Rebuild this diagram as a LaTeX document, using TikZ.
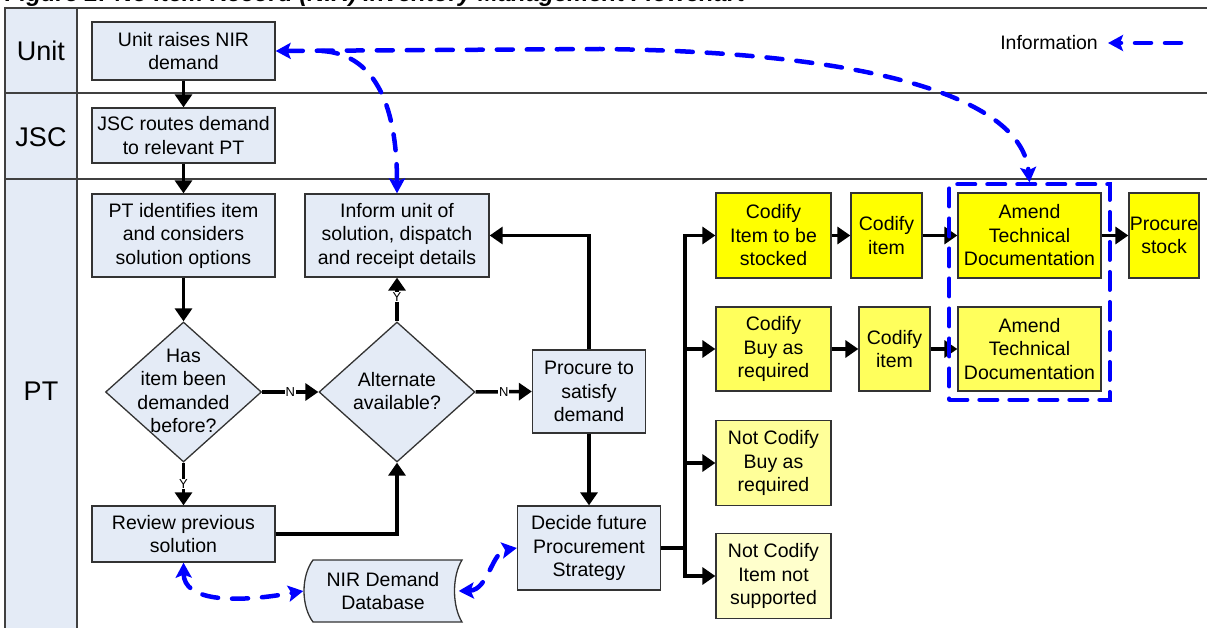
\documentclass[tikz,border=0pt]{standalone}
\usepackage{fontspec}
\setmainfont{Liberation Sans}
\usetikzlibrary{arrows.meta,shapes.geometric,calc,fit}

\definecolor{boxfill}{HTML}{E4EBF6}
\definecolor{laneline}{HTML}{404040}
\definecolor{edgecol}{HTML}{333333}
\definecolor{yelA}{HTML}{FFFF00}
\definecolor{yelB}{HTML}{FFFF5C}
\definecolor{yelC}{HTML}{FFFF99}
\definecolor{yelD}{HTML}{FFFFCC}
\definecolor{infoblue}{HTML}{0000FF}

\newcommand{\boxfont}{\fontsize{19.5}{23.5}\selectfont}
\newcommand{\lanefont}{\fontsize{27}{30}\selectfont}
\newcommand{\titlefont}{\fontsize{24}{28}\selectfont\bfseries\itshape}
\newcommand{\tagfont}{\fontsize{13}{13}\selectfont}

\begin{document}
\begin{tikzpicture}[x=1pt,y=-1pt,
  procbox/.style={draw=edgecol, line width=1.3pt, fill=boxfill, align=center,
    inner sep=0pt, font=\boxfont},
  yelbox/.style={procbox, fill=#1},
  decision/.style={diamond, draw=edgecol, line width=1.3pt, fill=boxfill,
    inner sep=0pt, minimum width=156, minimum height=140},
  flow/.style={line width=3.5pt, line join=miter, -{Triangle[length=13pt,width=17pt]}},
  trunk/.style={line width=3.5pt},
  lbl/.style={fill=white, inner sep=0.6pt, font=\tagfont},
  info/.style={draw=infoblue, line width=4.5pt, line cap=round,
    dash pattern=on 16pt off 14pt},
  infotip/.style={info, -{Stealth[length=15pt,width=16pt,inset=3pt]}},
  infoboth/.style={info, {Stealth[length=15pt,width=16pt,inset=3pt]}-{Stealth[length=15pt,width=16pt,inset=3pt]}},
  dbshape/.style={draw=edgecol, line width=1.3pt, fill=boxfill},
  lanerule/.style={draw=laneline, line width=1.8pt}
]
\useasboundingbox (0,0) rectangle (1207,628);

% heading (cut by the page edge)
\node[font=\titlefont, anchor=base west, inner sep=0pt] (title) at (5,1.5)
  {Figure 2: No Item Record (NIR) Inventory Management Flowchart};

% swimlane frame
\fill[boxfill] (5,8) rectangle (77,640);
\draw[lanerule] (1210,8) -- (5,8) -- (5,640);
\draw[lanerule] (77,8) -- (77,640);
\draw[lanerule] (5,93) -- (1210,93);
\draw[lanerule] (5,179) -- (1210,179);
\node[font=\lanefont] (laneunit) at (41,51) {Unit};
\node[font=\lanefont] (lanejsc) at (41,137) {JSC};
\node[font=\lanefont] (lanept) at (41,391) {PT};

% process boxes
\node[procbox, minimum width=183, minimum height=58] (unit) at (183.5,51) {Unit raises NIR\\demand};
\node[procbox, minimum width=183, minimum height=55] (jsc) at (183.5,135.5) {JSC routes demand\\to relevant PT};
\node[procbox, minimum width=183, minimum height=83] (ident) at (183.5,235.5) {PT identifies item\\and considers\\solution options};
\node[procbox, minimum width=184, minimum height=83] (inform) at (397,235.5) {Inform unit of\\solution, dispatch\\and receipt details};
\node[decision] (d1) at (183.5,392) {};
\node[font=\boxfont, align=center, inner sep=0pt] (d1text) at (183.5,391) {Has\\item been\\demanded\\before?};
\node[decision] (d2) at (397,392) {};
\node[font=\boxfont, align=center, inner sep=0pt] (d2text) at (397,391) {Alternate\\available?};
\node[procbox, minimum width=113, minimum height=83] (proc) at (589,391.5) {Procure to\\satisfy\\demand};
\node[procbox, minimum width=183, minimum height=56] (review) at (183.5,534) {Review previous\\solution};
\node[procbox, minimum width=143, minimum height=84] (decide) at (589,548) {Decide future\\Procurement\\Strategy};

% stored-data shape for the database
\coordinate (dbc) at (383,591);
\draw[dbshape] ($(dbc)+(-70,-31)$) -- ($(dbc)+(79,-31)$)
  .. controls ($(dbc)+(69,-15)$) and ($(dbc)+(69,15)$) .. ($(dbc)+(79,31)$)
  -- ($(dbc)+(-70,31)$)
  .. controls ($(dbc)+(-82,15)$) and ($(dbc)+(-82,-15)$) .. cycle;
\node[font=\boxfont, align=center, inner sep=0pt, minimum width=159, minimum height=62] (db) at (dbc) {NIR Demand\\Database};

% codification outcomes
\node[yelbox=yelA, minimum width=115, minimum height=85] (cs) at (773.5,235.5) {Codify\\Item to be\\stocked};
\node[yelbox=yelA, minimum width=71, minimum height=85] (ci1) at (886.5,235.5) {Codify\\item};
\node[yelbox=yelA, minimum width=143, minimum height=85] (amd1) at (1029.5,235.5) {Amend\\Technical\\Documentation};
\node[yelbox=yelA, minimum width=70, minimum height=85] (pst) at (1164,235.5) {Procure\\stock};
\node[yelbox=yelB, minimum width=115, minimum height=84] (cb) at (773.5,349) {Codify\\Buy as\\required};
\node[yelbox=yelB, minimum width=71, minimum height=84] (ci2) at (894.5,349) {Codify\\item};
\node[yelbox=yelB, minimum width=143, minimum height=84] (amd2) at (1029.5,349) {Amend\\Technical\\Documentation};
\node[yelbox=yelC, minimum width=115, minimum height=85] (ncb) at (773.5,463) {Not Codify\\Buy as\\required};
\node[yelbox=yelD, minimum width=115, minimum height=85] (nci) at (773.5,576) {Not Codify\\Item not\\supported};

% process flow
\draw[flow] (unit) -- (jsc);
\draw[flow] (jsc) -- (ident);
\draw[flow] (ident) -- (d1);
\draw[flow] (d1.east) -- node[lbl]{N} (d2.west);
\draw[flow] (d2.east) -- node[lbl]{N} (proc.west);
\draw[flow] (d1.south) -- node[lbl]{Y} (review.north);
\draw[flow] (d2.north) -- node[lbl, pos=0.55]{Y} (inform.south);
\draw[flow] (review.east) -| (d2.south);
\draw[flow] (proc.north) |- (inform.east);
\draw[flow] (proc) -- (decide);

\coordinate (split) at (685,548);
\draw[trunk] (decide.east) -- (split);
\draw[flow] (split) |- (cs.west);
\draw[flow] (split) |- (cb.west);
\draw[flow] (split) |- (ncb.west);
\draw[flow] (split) |- (nci.west);
\draw[flow] (cs) -- (ci1);
\draw[flow] (ci1) -- (amd1);
\draw[flow] (amd1) -- (pst);
\draw[flow] (cb) -- (ci2);
\draw[flow] (ci2) -- (amd2);

% information flows
\node[draw=infoblue, line width=4pt, line cap=round, dash pattern=on 18pt off 12pt,
  fit=(amd1)(amd2), inner sep=8pt] (docgroup) {};
\draw[infoboth] (unit.east) -- (600,49)
  .. controls (880,52) and (1022,100) .. (docgroup.north);
\coordinate (branch) at (322,51);
\draw[infotip] (branch) .. controls (372,54) and (397,100) .. (inform.north);
\draw[infoboth] (review.south) .. controls (184,600) and (230,604) .. (db.west);
\draw[infoboth] ([xshift=-4pt]db.east) .. controls (488,590) and (492,552) .. (decide.west);

% legend
\node[font=\boxfont, anchor=east, inner sep=0pt] (legend) at (1098,43) {Information};
\coordinate (legendtail) at (1181,43);
\draw[infotip] (legendtail) -- ([xshift=10pt]legend.east);
\end{tikzpicture}
\end{document}
